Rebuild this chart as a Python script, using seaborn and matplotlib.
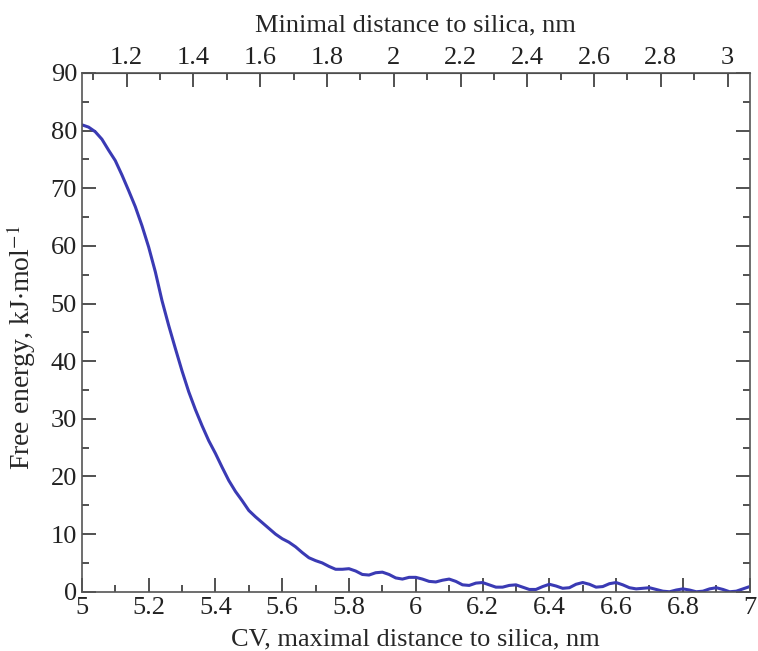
import numpy as np
import pandas as pd
import matplotlib
matplotlib.use("Agg")
import matplotlib.pyplot as plt
import seaborn as sns
from matplotlib.ticker import MultipleLocator, FormatStrFormatter, FixedLocator

# CV (maximal distance to silica, nm) and free energy (kJ/mol)
cv = [5.00, 5.02, 5.04, 5.06, 5.08, 5.10, 5.12, 5.14, 5.16, 5.18,
      5.20, 5.22, 5.24, 5.26, 5.28, 5.30, 5.32, 5.34, 5.36, 5.38,
      5.40, 5.42, 5.44, 5.46, 5.48, 5.50, 5.52, 5.54, 5.56, 5.58,
      5.60, 5.62, 5.64, 5.66, 5.68, 5.70, 5.72, 5.74, 5.76, 5.78,
      5.80, 5.82, 5.84, 5.86, 5.88, 5.90, 5.92, 5.94, 5.96, 5.98,
      6.00, 6.02, 6.04, 6.06, 6.08, 6.10, 6.12, 6.14, 6.16, 6.18,
      6.20, 6.22, 6.24, 6.26, 6.28, 6.30, 6.32, 6.34, 6.36, 6.38,
      6.40, 6.42, 6.44, 6.46, 6.48, 6.50, 6.52, 6.54, 6.56, 6.58,
      6.60, 6.62, 6.64, 6.66, 6.68, 6.70, 6.72, 6.74, 6.76, 6.78,
      6.80, 6.82, 6.84, 6.86, 6.88, 6.90, 6.92, 6.94, 6.96, 6.98, 7.00]
free_energy = [81.0, 80.6, 79.8, 78.5, 76.6, 74.8, 72.3, 69.6, 66.8, 63.5,
               59.8, 55.5, 50.5, 46.2, 42.2, 38.3, 34.7, 31.6, 28.8, 26.2,
               24.0, 21.6, 19.3, 17.4, 15.8, 14.1, 13.0, 12.0, 11.0, 10.0,
               9.2, 8.6, 7.8, 6.8, 5.9, 5.4, 5.0, 4.4, 3.9, 3.9,
               4.0, 3.6, 3.0, 2.9, 3.3, 3.4, 3.0, 2.4, 2.2, 2.5,
               2.5, 2.2, 1.8, 1.7, 2.0, 2.2, 1.8, 1.2, 1.1, 1.5,
               1.6, 1.2, 0.8, 0.8, 1.1, 1.2, 0.8, 0.4, 0.4, 0.9,
               1.3, 1.0, 0.6, 0.7, 1.3, 1.6, 1.3, 0.8, 0.9, 1.4,
               1.6, 1.2, 0.7, 0.5, 0.6, 0.7, 0.4, 0.1, 0.0, 0.3,
               0.5, 0.3, 0.0, 0.1, 0.5, 0.7, 0.4, 0.0, 0.1, 0.5, 0.9]

# top axis: minimal distance to silica (nm)
top_ticks = [1.2, 1.4, 1.6, 1.8, 2.0, 2.2, 2.4, 2.6, 2.8, 3.0]
top_minor = [1.1, 1.3, 1.5, 1.7, 1.9, 2.1, 2.3, 2.5, 2.7, 2.9]
# offset between maximal and minimal distance to silica (nm)
shift = 3.934

df = pd.DataFrame({"cv": cv, "fe": free_energy})

sns.set_style("ticks")
plt.rcParams["font.family"] = ["Liberation Serif", "DejaVu Serif"]
plt.rcParams["mathtext.fontset"] = "stix"

fig = plt.figure(figsize=(7.58, 6.51), dpi=100)
ax = fig.add_axes([0.108, 0.091, 0.881, 0.797])

sns.lineplot(data=df, x="cv", y="fe", ax=ax, color="#3a3ab4", linewidth=2.2)

ax.set_xlim(5, 7)
ax.set_ylim(0, 90)
ax.xaxis.set_major_locator(MultipleLocator(0.2))
ax.xaxis.set_minor_locator(MultipleLocator(0.1))
ax.xaxis.set_major_formatter(FormatStrFormatter("%g"))
ax.yaxis.set_major_locator(MultipleLocator(10))
ax.yaxis.set_minor_locator(MultipleLocator(5))

ax.tick_params(which="both", direction="in", labelsize=19, colors="#333333",
               bottom=True, top=False, left=True, right=True, width=1.2)
ax.tick_params(which="major", length=10)
ax.tick_params(which="minor", length=5)
ax.tick_params(axis="both", labelcolor="#222222")

for s in ax.spines.values():
    s.set_color("#555555")
    s.set_linewidth(1.2)

ax.set_xlabel("CV, maximal distance to silica, nm", fontsize=19, labelpad=7)
ax.set_ylabel("Free energy, kJ$\\cdot$mol$^{-1}$", fontsize=20)
ax.yaxis.set_label_coords(-0.066, 0.47)

top = ax.secondary_xaxis("top", functions=(lambda x: x - shift, lambda x: x + shift))
top.xaxis.set_major_locator(FixedLocator(top_ticks))
top.xaxis.set_minor_locator(FixedLocator(top_minor))
top.xaxis.set_major_formatter(FormatStrFormatter("%g"))
top.tick_params(which="both", direction="in", labelsize=19, colors="#333333", width=1.2)
top.tick_params(which="major", length=10)
top.tick_params(which="minor", length=5)
top.tick_params(axis="x", labelcolor="#222222", pad=3)
top.set_xlabel("Minimal distance to silica, nm", fontsize=19, labelpad=11)

fig.savefig("out.png", dpi=100)
